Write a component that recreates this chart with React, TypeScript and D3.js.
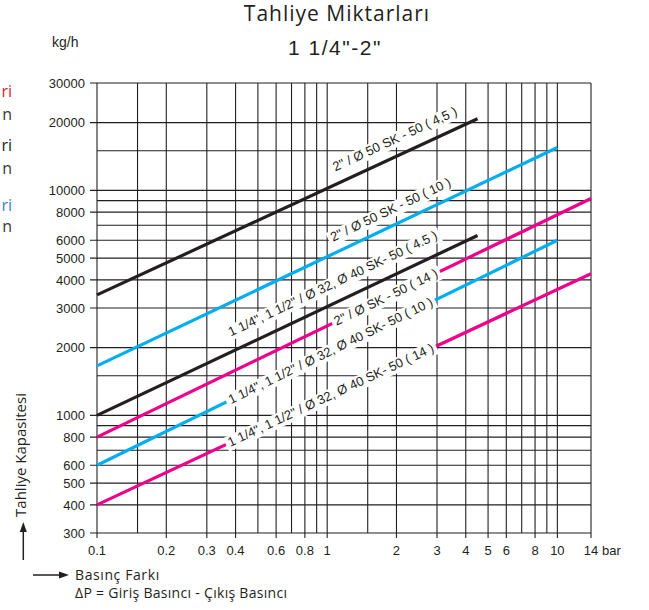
import React, { useRef, useEffect } from 'react';
import * as d3 from 'd3';

const WIDTH = 649;
const HEIGHT = 610;

// pressure difference ticks (bar)
const xTickValues = [0.1, 0.2, 0.3, 0.4, 0.6, 0.8, 1, 2, 3, 4, 5, 6, 8, 10, 14];
const xExtraGrid = [0.15, 0.5, 0.7, 0.9, 1.5, 7, 9];
// capacity ticks (kg/h)
const yTickValues = [300, 400, 500, 600, 800, 1000, 2000, 3000, 4000, 5000, 6000, 8000, 10000, 20000, 30000];
const yExtraGrid = [700, 900, 1500, 7000, 9000, 15000];

const seriesNames = [
  '2" / Ø 50 SK - 50 ( 4,5 )',
  '2" / Ø 50 SK - 50 ( 10 )',
  '2" / Ø SK - 50 ( 14 )',
  '1 1/4", 1 1/2" / Ø 32, Ø 40 SK- 50 ( 4.5 )',
  '1 1/4", 1 1/2" / Ø 32, Ø 40 SK- 50 ( 10 )',
  '1 1/4", 1 1/2" / Ø 32, Ø 40 SK- 50 ( 14 )',
];
const seriesColors = ['#231f20', '#00aeef', '#ec008c', '#231f20', '#00aeef', '#ec008c'];
const startPressure = [0.1, 0.1, 0.1, 0.1, 0.1, 0.1];
const startFlow = [3430, 1660, 800, 1000, 600, 400];
const endPressure = [4.5, 10, 14, 4.5, 10, 14];
const endFlow = [20800, 15500, 9200, 6300, 6000, 4260];

// label placement: pressure where the label starts, distance above the line (px)
const labelAt = [1.14, 1.11, 1.08, 0.405, 0.375, 0.373];
const labelLift = [12, 11, -4, 14, -4, -4];

// cut-off legend fragments at the left edge
const legendText = ['ri', 'n', 'ri', 'n', 'ri', 'n'];
const legendColors = ['#e2202c', '#3a3a3a', '#231f20', '#3a3a3a', '#3d7fc3', '#3a3a3a'];
const legendBaselines = [97, 120, 151, 174, 211, 232];

const INK = '#231f20';
const SANS = '"Liberation Sans", Arial, Helvetica, sans-serif';
const HUMAN = '"Open Sans", "Noto Sans", sans-serif';

const App: React.FC = () => {
  const svgRef = useRef<SVGSVGElement>(null);

  useEffect(() => {
    if (!svgRef.current) return;
    const svg = d3.select(svgRef.current);
    svg.selectAll('*').remove();

    const xScale = d3.scaleLog().domain([0.1, 14]).range([97, 591]);
    const yScale = d3.scaleLog().domain([300, 30000]).range([533, 83]);
    const [x0, x1] = xScale.range();
    const [y0, y1] = yScale.range();

    svg.append('rect').attr('width', WIDTH).attr('height', HEIGHT).attr('fill', '#fff');

    // Grid
    const grid = svg.append('g').attr('stroke', INK).attr('stroke-width', 1.1);
    [...yTickValues, ...yExtraGrid].forEach((v) => {
      const isTick = yTickValues.includes(v);
      grid
        .append('line')
        .attr('x1', isTick ? x0 - 7 : x0)
        .attr('x2', x1)
        .attr('y1', yScale(v))
        .attr('y2', yScale(v));
    });
    [...xTickValues, ...xExtraGrid].forEach((v) => {
      const isTick = xTickValues.includes(v);
      grid
        .append('line')
        .attr('x1', xScale(v))
        .attr('x2', xScale(v))
        .attr('y1', y1)
        .attr('y2', isTick ? y0 + 5 : y0);
    });

    // Tick labels
    svg
      .append('g')
      .attr('font-family', SANS)
      .attr('font-size', 13)
      .attr('fill', INK)
      .selectAll('text')
      .data(yTickValues)
      .enter()
      .append('text')
      .attr('x', x0 - 12)
      .attr('y', (d) => yScale(d))
      .attr('dy', '0.36em')
      .attr('text-anchor', 'end')
      .text((d) => String(d));

    svg
      .append('g')
      .attr('font-family', SANS)
      .attr('font-size', 13)
      .attr('fill', INK)
      .selectAll('text')
      .data(xTickValues)
      .enter()
      .append('text')
      .attr('x', (d) => xScale(d))
      .attr('y', y0 + 22)
      .attr('text-anchor', 'middle')
      .text((d) => String(d));

    svg
      .append('text')
      .attr('x', x1 + 11)
      .attr('y', y0 + 22)
      .attr('font-family', SANS)
      .attr('font-size', 13)
      .attr('fill', INK)
      .text('bar');

    // Series lines
    const line = d3
      .line<[number, number]>()
      .x((d) => xScale(d[0]))
      .y((d) => yScale(d[1]));

    seriesNames.forEach((_, i) => {
      svg
        .append('path')
        .attr('d', line([
          [startPressure[i], startFlow[i]],
          [endPressure[i], endFlow[i]],
        ]))
        .attr('fill', 'none')
        .attr('stroke', seriesColors[i])
        .attr('stroke-width', 3.2);
    });

    // Line labels, laid along each line on a white band
    const labels = svg.append('g').attr('font-family', SANS).attr('font-size', 13).attr('fill', INK);
    seriesNames.forEach((name, i) => {
      const ax = xScale(startPressure[i]);
      const ay = yScale(startFlow[i]);
      const bx = xScale(endPressure[i]);
      const by = yScale(endFlow[i]);
      const angle = (Math.atan2(ay - by, bx - ax) * 180) / Math.PI;
      const t = (xScale(labelAt[i]) - ax) / (bx - ax);
      const px = ax + (bx - ax) * t;
      const py = ay + (by - ay) * t;
      const g = labels.append('g').attr('transform', `translate(${px},${py}) rotate(${-angle})`);
      const rect = g.append('rect').attr('fill', '#fff');
      const text = g.append('text').attr('y', -labelLift[i]).text(name);
      const len = (text.node() as SVGTextElement).getComputedTextLength();
      rect
        .attr('x', -3)
        .attr('y', -labelLift[i] - 11)
        .attr('width', len + 6)
        .attr('height', 15);
    });

    // Titles
    svg
      .append('text')
      .attr('x', 337)
      .attr('y', 21)
      .attr('text-anchor', 'middle')
      .attr('font-family', HUMAN)
      .attr('font-size', 21)
      .attr('letter-spacing', 1)
      .attr('fill', INK)
      .text('Tahliye Miktarları');

    svg
      .append('text')
      .attr('x', 335)
      .attr('y', 55)
      .attr('text-anchor', 'middle')
      .attr('font-family', SANS)
      .attr('font-size', 21)
      .attr('letter-spacing', 1.5)
      .attr('fill', INK)
      .text('1 1/4"-2"');

    svg
      .append('text')
      .attr('x', 52)
      .attr('y', 47)
      .attr('font-family', SANS)
      .attr('font-size', 14)
      .attr('fill', INK)
      .text('kg/h');

    // Y axis title with arrow
    svg
      .append('text')
      .attr('transform', 'translate(26,455) rotate(-90)')
      .attr('text-anchor', 'middle')
      .attr('font-family', HUMAN)
      .attr('font-size', 15)
      .attr('fill', INK)
      .text('Tahliye Kapasitesi');

    svg
      .append('line')
      .attr('x1', 23.3)
      .attr('x2', 23.3)
      .attr('y1', 560)
      .attr('y2', 530)
      .attr('stroke', INK)
      .attr('stroke-width', 1.5);
    svg
      .append('path')
      .attr('d', 'M23.3,522 L26.8,532 L19.8,532 Z')
      .attr('fill', INK);

    // X axis title with arrow
    svg
      .append('line')
      .attr('x1', 33)
      .attr('x2', 61)
      .attr('y1', 575)
      .attr('y2', 575)
      .attr('stroke', INK)
      .attr('stroke-width', 1.5);
    svg
      .append('path')
      .attr('d', 'M69,575 L59,571.5 L59,578.5 Z')
      .attr('fill', INK);

    svg
      .append('text')
      .attr('x', 75)
      .attr('y', 580)
      .attr('font-family', HUMAN)
      .attr('font-size', 14)
      .attr('letter-spacing', 0.6)
      .attr('fill', INK)
      .text('Basınç Farkı');

    svg
      .append('text')
      .attr('x', 75)
      .attr('y', 598)
      .attr('font-family', HUMAN)
      .attr('font-size', 14)
      .attr('letter-spacing', 0.3)
      .attr('fill', INK)
      .text('ΔP = Giriş Basıncı - Çıkış Basıncı');

    // Legend fragments at the left edge
    svg
      .append('g')
      .attr('font-family', HUMAN)
      .attr('font-size', 16)
      .selectAll('text')
      .data(legendText)
      .enter()
      .append('text')
      .attr('x', 12)
      .attr('y', (_, i) => legendBaselines[i])
      .attr('text-anchor', 'end')
      .attr('fill', (_, i) => legendColors[i])
      .text((d) => d);
  }, []);

  return (
    <div style={{ position: 'absolute', left: 0, top: 0 }}>
      <svg ref={svgRef} width={WIDTH} height={HEIGHT} />
    </div>
  );
};

export default App;
